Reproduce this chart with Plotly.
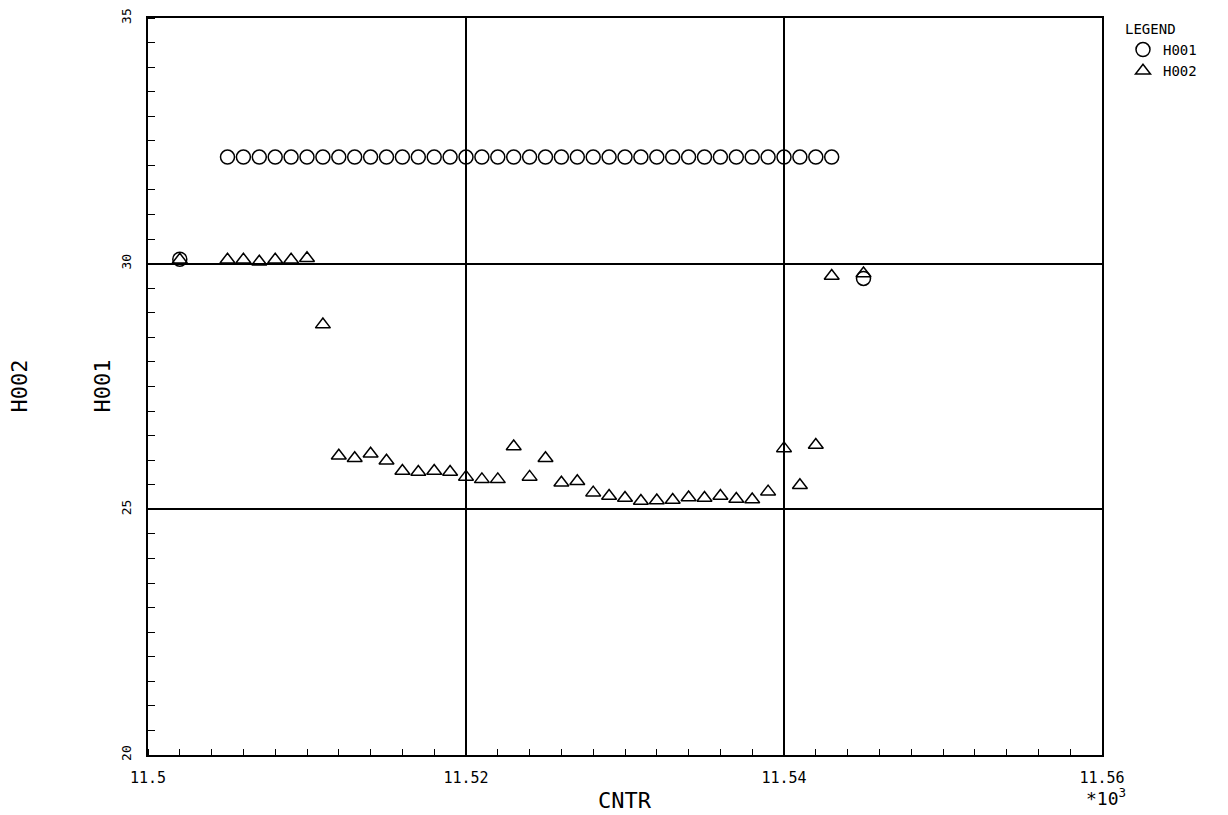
import plotly.graph_objects as go

# CNTR values (in thousands, axis labelled *10^3)
cntr = [11.502, 11.505, 11.506, 11.507, 11.508, 11.509, 11.510, 11.511,
        11.512, 11.513, 11.514, 11.515, 11.516, 11.517, 11.518, 11.519,
        11.520, 11.521, 11.522, 11.523, 11.524, 11.525, 11.526, 11.527,
        11.528, 11.529, 11.530, 11.531, 11.532, 11.533, 11.534, 11.535,
        11.536, 11.537, 11.538, 11.539, 11.540, 11.541, 11.542, 11.543,
        11.545]

h001 = [30.09, 32.17, 32.17, 32.17, 32.17, 32.17, 32.17, 32.17,
        32.17, 32.17, 32.17, 32.17, 32.17, 32.17, 32.17, 32.17,
        32.17, 32.17, 32.17, 32.17, 32.17, 32.17, 32.17, 32.17,
        32.17, 32.17, 32.17, 32.17, 32.17, 32.17, 32.17, 32.17,
        32.17, 32.17, 32.17, 32.17, 32.17, 32.17, 32.17, 32.17,
        29.70]

h002 = [30.08, 30.08, 30.08, 30.04, 30.08, 30.08, 30.11, 28.76,
        26.09, 26.04, 26.13, 25.99, 25.78, 25.76, 25.78, 25.76,
        25.66, 25.61, 25.61, 26.28, 25.66, 26.04, 25.54, 25.57,
        25.34, 25.27, 25.23, 25.17, 25.18, 25.19, 25.24, 25.23,
        25.27, 25.21, 25.20, 25.36, 26.24, 25.49, 26.31, 29.75,
        29.80]

x_ticks = [11.5, 11.52, 11.54, 11.56]
x_labels = ["11.5", "11.52", "11.54", "11.56"]
y_ticks = [20, 25, 30, 35]
y_labels = ["20", "25", "30", "35"]

FONT = "DejaVu Sans Mono"

fig = go.Figure()
fig.add_trace(go.Scatter(
    x=cntr, y=h001, mode="markers", name="H001",
    marker=dict(symbol="circle-open", size=14, color="black",
                line=dict(color="black", width=1.5)),
))
fig.add_trace(go.Scatter(
    x=cntr, y=h002, mode="markers", name="H002",
    marker=dict(symbol="triangle-up-open", size=13, color="black",
                line=dict(color="black", width=1.5)),
))

fig.update_layout(
    width=1228, height=815,
    margin=dict(l=140, r=134, t=10, b=68, autoexpand=False),
    paper_bgcolor="white", plot_bgcolor="white",
    font=dict(family=FONT, size=14, color="black"),
    showlegend=True,
    legend=dict(
        title=dict(text="LEGEND", font=dict(family=FONT, size=14)),
        x=1.022, y=1.003, xanchor="left", yanchor="top",
        font=dict(family=FONT, size=14),
        bgcolor="rgba(0,0,0,0)", itemwidth=30, tracegroupgap=0,
    ),
    xaxis=dict(
        range=[11.5, 11.56], tickvals=x_ticks, ticktext=x_labels,
        automargin=False,
        showgrid=True, gridcolor="black", gridwidth=1.5,
        showline=True, linecolor="black", linewidth=2, mirror=True,
        ticks="", zeroline=False, ticklabelstandoff=8,
        minor=dict(ticks="inside", dtick=0.002, ticklen=6,
                   tickcolor="black", tickwidth=1, showgrid=False),
        tickfont=dict(family=FONT, size=15),
    ),
    yaxis=dict(
        range=[20, 35], tickvals=y_ticks, ticktext=y_labels,
        tickangle=-90, automargin=False,
        showgrid=True, gridcolor="black", gridwidth=1.5,
        showline=True, linecolor="black", linewidth=2, mirror=True,
        ticks="", zeroline=False, ticklabelstandoff=10,
        minor=dict(ticks="inside", dtick=0.5, ticklen=7,
                   tickcolor="black", tickwidth=1, showgrid=False),
        tickfont=dict(family=FONT, size=13),
    ),
    annotations=[
        dict(text="CNTR", xref="paper", yref="paper", x=0.5, y=0,
             xanchor="center", yanchor="middle",
             yshift=-45, showarrow=False, font=dict(family=FONT, size=22)),
        dict(text="*10<sup>3</sup>", xref="paper", yref="paper", x=1.0, y=0,
             xanchor="center", yanchor="middle", xshift=4, yshift=-42,
             showarrow=False, font=dict(family=FONT, size=18)),
        dict(text="H001", xref="paper", yref="paper", x=0, y=0.5,
             xanchor="center", yanchor="middle",
             xshift=-46, textangle=-90, showarrow=False,
             font=dict(family=FONT, size=22)),
        dict(text="H002", xref="paper", yref="paper", x=0, y=0.5,
             xanchor="center", yanchor="middle",
             xshift=-129, textangle=-90, showarrow=False,
             font=dict(family=FONT, size=22)),
    ],
)

fig.write_html("out.html")
